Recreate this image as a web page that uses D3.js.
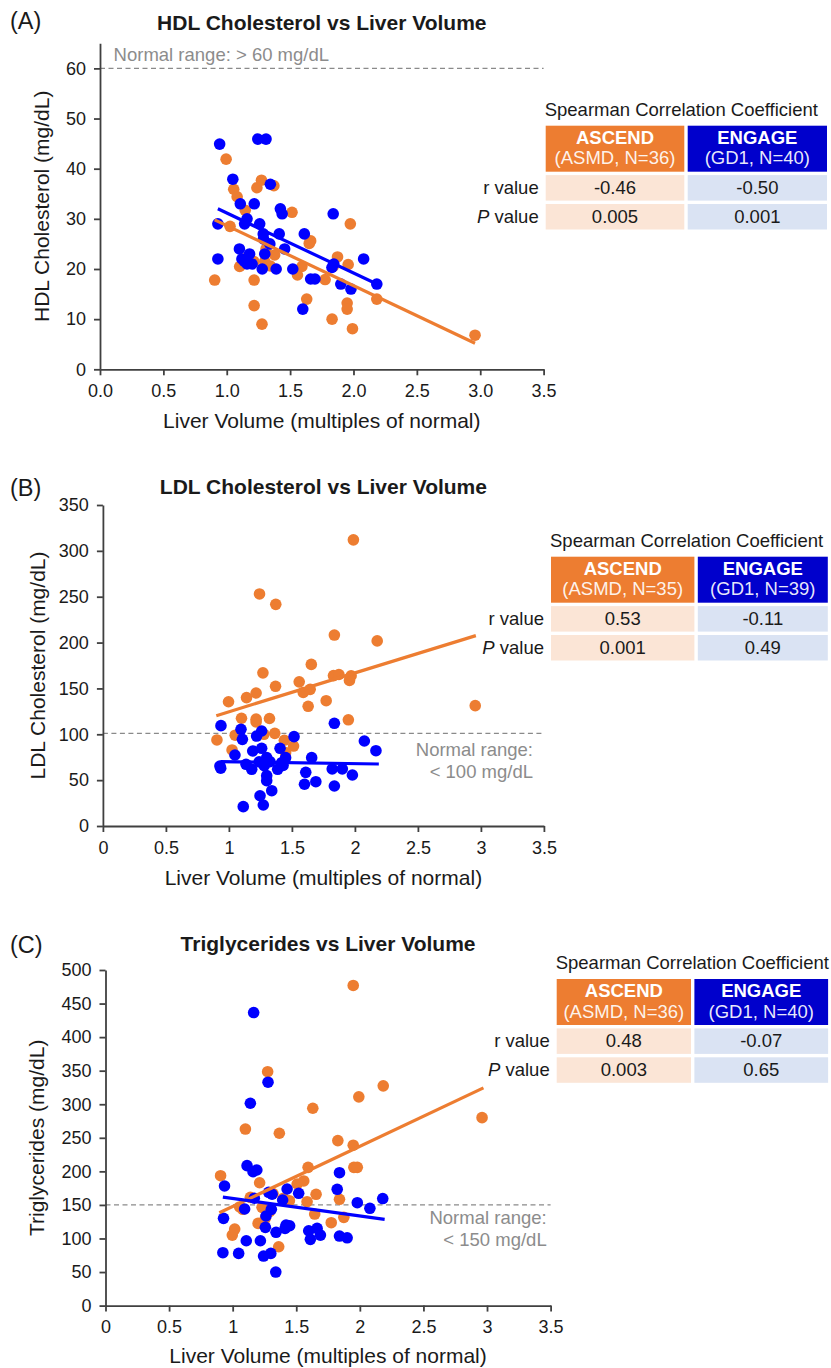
<!DOCTYPE html>
<html><head><meta charset="utf-8">
<script src="https://cdn.jsdelivr.net/npm/d3@7"></script>
<style>
body{margin:0;background:#fff}
text{font-family:"Liberation Sans",Arial,Helvetica,sans-serif}
</style>
</head><body>
<svg id="chart" width="831" height="1368"></svg>
<script>
// ---------------- DATA ----------------
const xTicks = [0, 0.5, 1, 1.5, 2, 2.5, 3, 3.5];
const hdlTicks = [0, 10, 20, 30, 40, 50, 60];
const ldlTicks = [0, 50, 100, 150, 200, 250, 300, 350];
const tgTicks = [0, 50, 100, 150, 200, 250, 300, 350, 400, 450, 500];

const hdlAscend = [[0.905,17.8],[0.995,41.9],[1.026,28.5],[1.055,35.9],[1.082,34.4],[1.102,20.5],[1.146,31.7],[1.216,17.8],[1.216,12.7],[1.214,21.5],[1.238,36.2],[1.274,37.7],[1.278,9.0],[1.372,36.6],[1.378,22.8],[1.345,20.6],[1.515,31.3],[1.558,18.8],[1.593,20.5],[1.631,14.0],[1.651,25.1],[1.662,25.6],[1.776,17.9],[1.831,10.0],[1.874,22.4],[1.95,13.2],[1.95,12.0],[1.958,20.9],[1.975,29.0],[1.992,8.1],[2.184,14.0],[2.959,6.8],[1.31,24.0],[1.17,22.5],[1.84,20.5],[1.30,21.5]];
const hdlEngage = [[0.944,44.9],[0.93,29.0],[0.93,22.0],[1.048,37.9],[1.107,33.0],[1.141,29.0],[1.16,30.0],[1.217,33.0],[1.245,45.9],[1.31,45.9],[1.26,29.0],[1.288,27.0],[1.344,36.9],[1.10,24.0],[1.12,22.0],[1.18,23.0],[1.16,21.0],[1.20,21.0],[1.28,20.0],[1.30,23.0],[1.34,25.0],[1.39,20.0],[1.414,27.0],[1.423,32.0],[1.437,31.0],[1.457,24.0],[1.521,20.0],[1.612,27.0],[1.60,12.0],[1.662,18.0],[1.696,18.0],[1.84,31.0],[1.83,20.3],[1.845,21.0],[1.90,17.0],[1.98,16.0],[2.08,22.0],[2.184,17.0],[1.14,21.5],[1.29,26.0]];
const hdlFitAscend = [[0.905,29.8],[2.959,5.2]];
const hdlFitEngage = [[0.93,32.0],[2.184,17.0]];

const ldlAscend = [[0.905,93.8],[0.997,135.5],[1.025,82.9],[1.05,99.0],[1.10,117.5],[1.14,140.0],[1.216,145.0],[1.216,116.5],[1.216,113.5],[1.243,253],[1.27,167],[1.278,100],[1.322,117.2],[1.372,241.7],[1.37,152.3],[1.364,101],[1.44,93.5],[1.513,87.2],[1.558,157.2],[1.59,145.6],[1.629,130.5],[1.654,176.2],[1.645,149],[1.772,136.6],[1.837,208.2],[1.83,164],[1.873,165.2],[1.948,115.8],[1.957,158.7],[1.97,163.8],[1.988,312],[2.177,201.8],[2.955,131.2],[1.30,70],[1.45,80]];
const ldlEngage = [[0.937,109.4],[0.929,65.4],[1.048,77.4],[1.096,105.4],[1.107,94.5],[1.136,67.3],[1.181,61.8],[1.114,21.1],[1.189,81.8],[1.22,98.1],[1.26,103.6],[1.26,84.7],[1.30,74.5],[1.28,65.8],[1.30,54.9],[1.30,49.4],[1.247,33],[1.273,22.9],[1.34,38.5],[1.326,70.1],[1.387,61.8],[1.406,84.7],[1.45,74.5],[1.419,69],[1.517,97.4],[1.657,74.5],[1.61,58.5],[1.60,45.5],[1.69,48.3],[1.837,112],[1.82,62.2],[1.90,62.2],[1.837,43.6],[1.98,55.6],[2.075,92.7],[2.167,82.1],[0.935,63],[1.24,70],[1.43,66]];
const ldlFitAscend = [[0.90,120.3],[2.96,207.6]];
const ldlFitEngage = [[0.933,70.2],[2.19,67.6]];

const tgAscend = [[0.905,193.5],[0.997,105],[1.016,114],[1.10,263],[1.08,143.5],[1.055,147],[1.139,161.3],[1.212,183],[1.20,122.5],[1.231,146.4],[1.275,348.5],[1.257,130],[1.367,256.8],[1.362,87.7],[1.317,167],[1.446,156.3],[1.507,181.2],[1.559,185.7],[1.585,154.8],[1.593,206],[1.63,294],[1.645,136.4],[1.656,165.8],[1.775,123.5],[1.827,245.8],[1.84,158.4],[1.874,131.5],[1.948,477],[1.948,239],[1.953,206],[1.98,206],[1.992,311],[2.184,327.4],[2.961,280],[1.29,140],[1.40,160]];
const tgEngage = [[1.165,436.6],[1.278,332.8],[1.139,301.5],[1.113,208.5],[1.16,199.5],[1.19,202],[0.936,178.2],[0.928,130],[0.923,78.8],[1.047,77.8],[1.107,96.6],[1.094,143.9],[1.218,96.6],[1.262,133.5],[1.304,143.4],[1.283,168.8],[1.257,116.6],[1.341,109.2],[1.243,73.8],[1.30,77.8],[1.428,173.7],[1.393,157.3],[1.42,120],[1.448,119],[1.412,115],[1.519,167.3],[1.598,111.5],[1.611,98.7],[1.664,115],[1.69,105],[1.822,173.3],[1.84,198],[1.84,103.6],[1.90,101],[1.98,153.3],[2.079,145],[2.18,159.5],[1.339,50],[1.31,166],[1.17,160]];
const tgFitAscend = [[0.895,138.3],[2.972,324.4]];
const tgFitEngage = [[0.923,161.7],[2.195,128.4]];

const studyNames = ["ASCEND", "ENGAGE"];
const hdlGroups = ["(ASMD, N=36)", "(GD1, N=40)"];
const ldlGroups = ["(ASMD, N=35)", "(GD1, N=39)"];
const tgGroups = ["(ASMD, N=36)", "(GD1, N=40)"];
const hdlR = ["-0.46", "-0.50"], hdlP = ["0.005", "0.001"];
const ldlR = ["0.53", "-0.11"], ldlP = ["0.001", "0.49"];
const tgR = ["0.48", "-0.07"], tgP = ["0.003", "0.65"];

// ---------------- STYLE ----------------
const ORANGE = "#ED7D31", BLUE = "#0000FF", HDR_BLUE = "#0000CC";
const ROW_OR = "#FBE5D6", ROW_BL = "#DAE3F3";
const AXIS = "#404040", GRAY = "#8C8C8C", TXT = "#1a1a1a";

const svg = d3.select("#chart");

function panel(c) {
  const g = svg.append("g");
  const x = d3.scaleLinear().domain([0, 3.5]).range([c.x0, c.x1]);
  const y = d3.scaleLinear().domain([0, c.yMax]).range([c.yB, c.yT]);

  g.append("text").attr("x", 10).attr("y", c.letterY).attr("font-size", 23.5).attr("fill", TXT).text(c.letter);
  g.append("text").attr("x", (c.x0 + c.x1) / 2).attr("y", c.titleY).attr("text-anchor", "middle")
    .attr("font-size", 21).attr("font-weight", "bold").attr("fill", TXT).text(c.title);

  g.append("line").attr("x1", c.x0).attr("x2", c.x1).attr("y1", y(c.ref)).attr("y2", y(c.ref))
    .attr("stroke", "#8a8a8a").attr("stroke-width", 1.3).attr("stroke-dasharray", "5,3.5");
  if (c.normalLines.length === 1) {
    g.append("text").attr("x", c.normalX).attr("y", c.normalY[0]).attr("font-size", 18.5)
      .attr("fill", GRAY).text(c.normalLines[0]);
  } else {
    c.normalLines.forEach((t, i) => g.append("text").attr("x", c.normalX).attr("y", c.normalY[i])
      .attr("text-anchor", "end").attr("font-size", 18.5).attr("fill", GRAY).text(t));
  }

  const xa = g.append("g").attr("transform", `translate(0,${c.yB})`)
    .call(d3.axisBottom(x).tickValues(xTicks).tickFormat(c.xFmt).tickSize(6).tickSizeOuter(0).tickPadding(9));
  const ya = g.append("g").attr("transform", `translate(${c.x0},0)`)
    .call(d3.axisLeft(y).tickValues(c.yTicks).tickSize(6).tickSizeOuter(0).tickPadding(8));
  [xa, ya].forEach(a => {
    a.select(".domain").attr("stroke", AXIS).attr("stroke-width", 1.8);
    a.selectAll(".tick line").attr("stroke", AXIS).attr("stroke-width", 1.8);
    a.selectAll(".tick text").attr("font-size", 18).attr("fill", TXT)
      .attr("font-family", '"Liberation Sans",Arial,sans-serif');
  });

  g.append("text").attr("x", (c.x0 + c.x1) / 2).attr("y", c.xLabelY).attr("text-anchor", "middle")
    .attr("font-size", 21).attr("fill", TXT).text("Liver Volume (multiples of normal)");
  g.append("text").attr("transform", `translate(${c.yLabelX},${(c.yB + c.yT) / 2}) rotate(-90)`)
    .attr("text-anchor", "middle").attr("font-size", 21).attr("fill", TXT).text(c.yLabel);

  const R = 5.8;
  g.append("g").selectAll("circle").data(c.asc).join("circle")
    .attr("cx", d => x(d[0])).attr("cy", d => y(d[1])).attr("r", R).attr("fill", ORANGE);
  g.append("g").selectAll("circle").data(c.eng).join("circle")
    .attr("cx", d => x(d[0])).attr("cy", d => y(d[1])).attr("r", R).attr("fill", BLUE);

  const line = d3.line().x(d => x(d[0])).y(d => y(d[1]));
  g.append("path").attr("d", line(c.fitA)).attr("stroke", ORANGE).attr("stroke-width", 3.2).attr("fill", "none");
  g.append("path").attr("d", line(c.fitE)).attr("stroke", BLUE).attr("stroke-width", 3.2).attr("fill", "none");

  const t = c.table;
  const hdrH = 46, rowH = 25.5, gap = 3.4;
  const xs = [t.left, t.left + t.wO + gap];
  const ws = [t.wO, t.wB];
  g.append("text").attr("x", t.left - 1).attr("y", t.top - 10).attr("font-size", 18.5).attr("fill", TXT)
    .text("Spearman Correlation Coefficient");
  [0, 1].forEach(i => {
    g.append("rect").attr("x", xs[i]).attr("y", t.top).attr("width", ws[i]).attr("height", hdrH)
      .attr("fill", i === 0 ? ORANGE : HDR_BLUE);
    g.append("text").attr("x", xs[i] + ws[i] / 2).attr("y", t.top + 18).attr("text-anchor", "middle")
      .attr("font-size", 18.5).attr("font-weight", "bold").attr("fill", "#fff").text(studyNames[i]);
    g.append("text").attr("x", xs[i] + ws[i] / 2).attr("y", t.top + 38.5).attr("text-anchor", "middle")
      .attr("font-size", 18.5).attr("fill", "#fff").attr("fill-opacity", 0.92).text(c.groups[i]);
    [c.r, c.p].forEach((vals, j) => {
      const ry = t.top + hdrH + gap + j * (rowH + gap);
      g.append("rect").attr("x", xs[i]).attr("y", ry).attr("width", ws[i]).attr("height", rowH)
        .attr("fill", i === 0 ? ROW_OR : ROW_BL);
      g.append("text").attr("x", xs[i] + ws[i] / 2).attr("y", ry + 19).attr("text-anchor", "middle")
        .attr("font-size", 18.5).attr("fill", TXT).text(vals[i]);
    });
  });
  const r1 = t.top + hdrH + gap, r2 = r1 + rowH + gap;
  g.append("text").attr("x", t.left - 7).attr("y", r1 + 19).attr("text-anchor", "end")
    .attr("font-size", 18.5).attr("fill", TXT).text("r value");
  const pv = g.append("text").attr("x", t.left - 7).attr("y", r2 + 19).attr("text-anchor", "end")
    .attr("font-size", 18.5).attr("fill", TXT);
  pv.append("tspan").attr("font-style", "italic").text("P");
  pv.append("tspan").text(" value");
}

const fmt1 = d3.format(".1f");
const fmtPlain = d => String(d);

panel({
  letter: "(A)", letterY: 29, title: "HDL Cholesterol vs Liver Volume", titleY: 29.5,
  x0: 100, x1: 543.6, yB: 369.3, yT: 43.3, yMax: 65, yTicks: hdlTicks, xFmt: fmt1,
  ref: 60, normalLines: ["Normal range: > 60 mg/dL"], normalX: 113.6, normalY: [61],
  xLabelY: 428, yLabelX: 49, yLabel: "HDL Cholesterol (mg/dL)",
  asc: hdlAscend, eng: hdlEngage, fitA: hdlFitAscend, fitE: hdlFitEngage,
  groups: hdlGroups, r: hdlR, p: hdlP,
  table: { left: 545.7, top: 125.7, wO: 138.6, wB: 139.3 }
});
panel({
  letter: "(B)", letterY: 496, title: "LDL Cholesterol vs Liver Volume", titleY: 494,
  x0: 102.9, x1: 543.9, yB: 826, yT: 505, yMax: 350, yTicks: ldlTicks, xFmt: fmtPlain,
  ref: 101, normalLines: ["Normal range:", "< 100 mg/dL"], normalX: 533, normalY: [756, 778],
  xLabelY: 885, yLabelX: 45, yLabel: "LDL Cholesterol (mg/dL)",
  asc: ldlAscend, eng: ldlEngage, fitA: ldlFitAscend, fitE: ldlFitEngage,
  groups: ldlGroups, r: ldlR, p: ldlP,
  table: { left: 551, top: 556.7, wO: 143.4, wB: 130 }
});
panel({
  letter: "(C)", letterY: 953, title: "Triglycerides vs Liver Volume", titleY: 951,
  x0: 105.5, x1: 550.6, yB: 1305.6, yT: 970, yMax: 500, yTicks: tgTicks, xFmt: fmtPlain,
  ref: 150, normalLines: ["Normal range:", "< 150 mg/dL"], normalX: 546.7, normalY: [1224, 1246],
  xLabelY: 1363, yLabelX: 44, yLabel: "Triglycerides (mg/dL)",
  asc: tgAscend, eng: tgEngage, fitA: tgFitAscend, fitE: tgFitEngage,
  groups: tgGroups, r: tgR, p: tgP,
  table: { left: 556.7, top: 979, wO: 134.3, wB: 133.7 }
});
</script>
</body></html>
